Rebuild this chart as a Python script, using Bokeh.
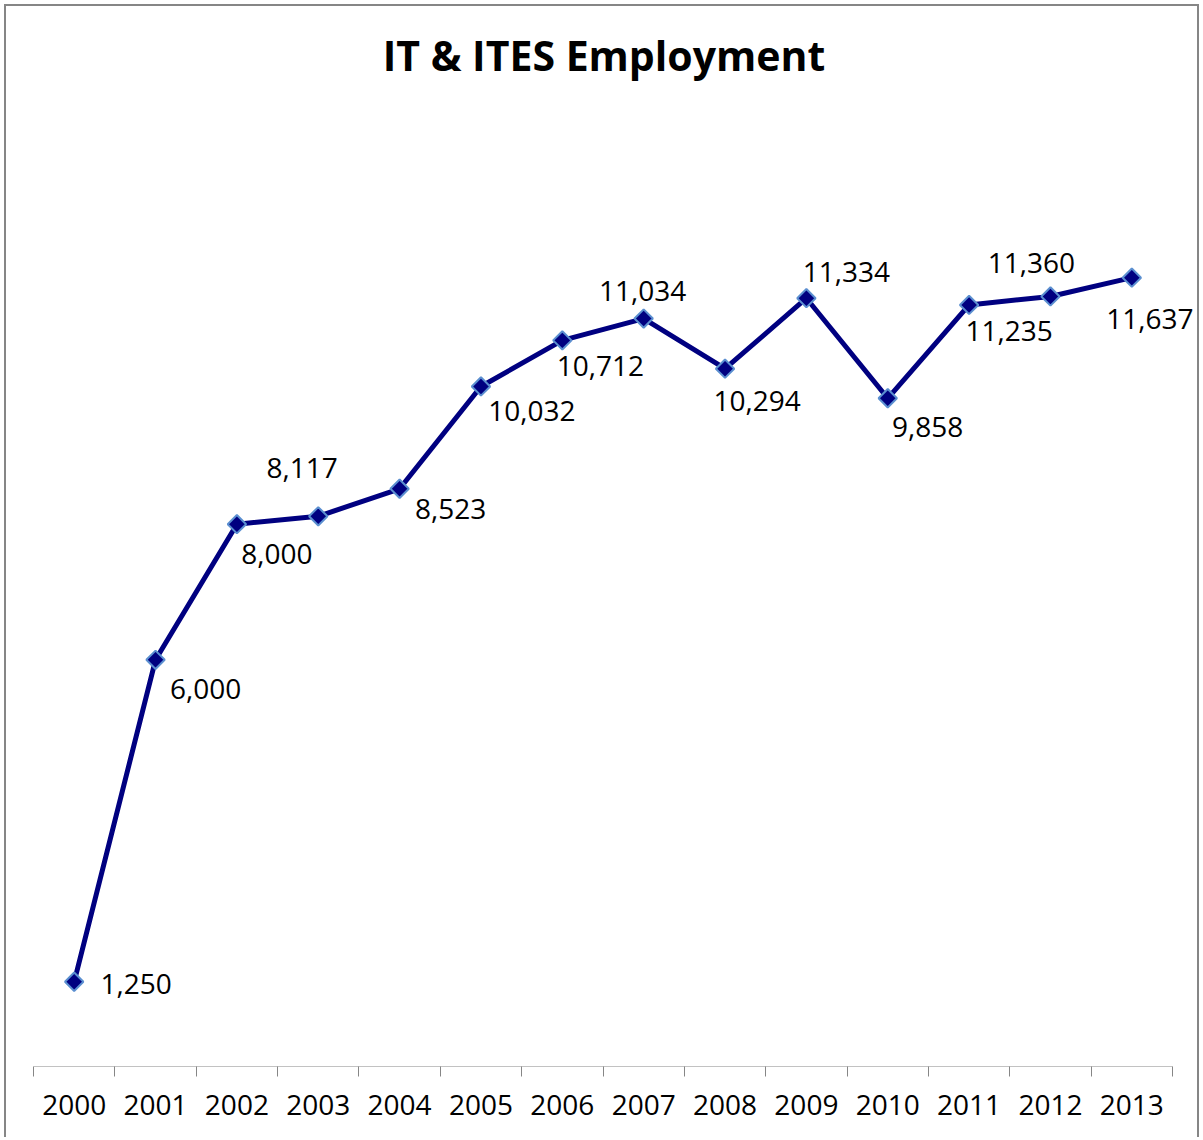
from bokeh.plotting import figure
from bokeh.models import ColumnDataSource, Range1d, FixedTicker, LabelSet, Label
from bokeh.core.properties import value
from bokeh.embed import file_html
from bokeh.resources import INLINE
import numpy as np

# ---- data ----
years = [2000, 2001, 2002, 2003, 2004, 2005, 2006, 2007, 2008, 2009, 2010, 2011, 2012, 2013]
employment = [1250, 6000, 8000, 8117, 8523, 10032, 10712, 11034, 10294, 11334, 9858, 11235, 11360, 11637]
title_text = "IT & ITES Employment"
y_axis_max = 14000   # value axis (hidden) runs 0 .. 14,000

# ---- label placement (styling, screen px; dy positive = down) ----
label_dx = [62, 50, 40, -16, 51, 51, 38, -1, 32, 40, 40, 40, -19, 18]
label_dy = [2, 29, 30, -48, 20, 25, 26, -28, 32, -26, 29, 26, -33, 41]

labels = [f"{v:,}" for v in employment]
src = ColumnDataSource(dict(x=years, y=employment, lab=labels,
                            dx=label_dx, dy=[-d for d in label_dy]))

FONT = "Open Sans"

# ---- layout (canvas pixels) ----
W, H = 1195, 1133
LEFT = 27                 # left edge of category axis
AXIS_W = 1139             # width of category axis
BOTTOM = 73               # space below axis line
PLOT_H = 949              # pixels for 0 .. y_axis_max
FRAME_H = H - BOTTOM      # frame also covers the title area
PX_PER_CAT = AXIS_W / len(years)
x_lo = years[0] - 0.5
x_hi = years[-1] + 0.5
x_hi_frame = x_lo + (W - LEFT) / PX_PER_CAT
y_hi_frame = y_axis_max * FRAME_H / PLOT_H

TITLE_CX, TITLE_CY = 597.5, 48   # title centre, canvas px

p = figure(width=W, height=H, title=None,
           x_range=Range1d(x_lo, x_hi_frame),
           y_range=Range1d(0, y_hi_frame),
           output_backend="svg", toolbar_location=None,
           y_axis_location=None,
           min_border_left=LEFT, min_border_right=0,
           min_border_top=0, min_border_bottom=BOTTOM)
p.styles = {"border-top": "2px solid #868686",
            "border-left": "2px solid #868686",
            "border-right": "2px solid #868686",
            "margin-left": "4px", "margin-top": "4px"}
p.background_fill_color = "white"
p.border_fill_color = "white"
p.outline_line_color = None
p.xgrid.visible = False
p.ygrid.visible = False

boundaries = [y - 0.5 for y in years] + [years[-1] + 0.5]
ax = p.xaxis[0]
ax.ticker = FixedTicker(ticks=years, minor_ticks=boundaries)
ax.major_tick_in = 0
ax.major_tick_out = 0
ax.minor_tick_in = 0
ax.minor_tick_out = 10
ax.minor_tick_line_color = "#868686"
ax.minor_tick_line_width = 1
ax.axis_line_color = None
ax.major_label_text_font = FONT
ax.major_label_text_font_size = "28px"
ax.major_label_text_color = "black"
ax.major_label_standoff = 18

# category axis line
p.segment(x0=[x_lo], y0=[0], x1=[x_hi], y1=[0], line_color="#868686", line_width=1)

p.line("x", "y", source=src, line_color="#000080", line_width=5)
p.scatter("x", "y", source=src, marker="square", angle=np.pi / 4, size=13,
          fill_color="#000080", line_color="#5b8fd0", line_width=2)
p.add_layout(LabelSet(x="x", y="y", text="lab", source=src,
                      x_offset="dx", y_offset="dy",
                      text_align="center", text_baseline="middle",
                      text_font=value(FONT), text_font_size=value("28px"),
                      text_color="black"))

# chart title
p.add_layout(Label(x=x_lo + (TITLE_CX - LEFT) / PX_PER_CAT,
                   y=y_axis_max * (FRAME_H - TITLE_CY) / PLOT_H,
                   text=title_text, text_align="center", text_baseline="middle",
                   text_font=FONT, text_font_style="bold", text_font_size="41px",
                   text_color="black"))

open("out.html", "w").write(file_html(p, INLINE))
